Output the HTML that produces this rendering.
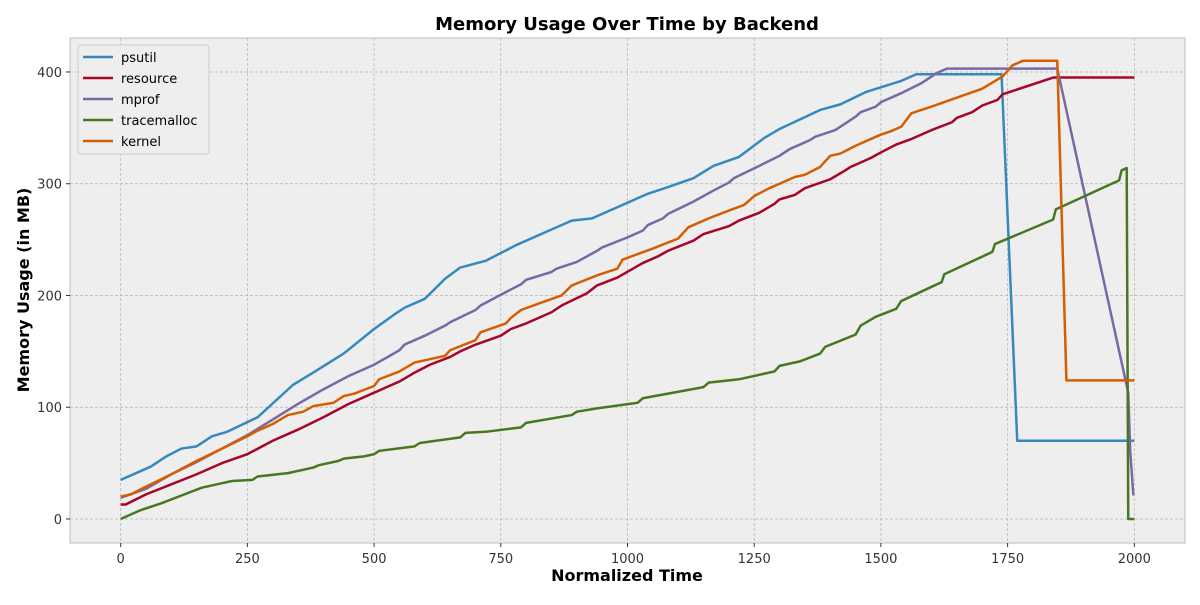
<!DOCTYPE html>
<html><head><meta charset="utf-8"><style>
body{margin:0;background:#fff;font-family:"Liberation Sans","DejaVu Sans",sans-serif}
svg text{font-family:"DejaVu Sans","Liberation Sans",sans-serif}
</style></head><body>
<svg id="c" width="1200" height="600"></svg>
<script>
const xTicks=[0,250,500,750,1000,1250,1500,1750,2000];
const yTicks=[0,100,200,300,400];
const seriesNames=["psutil","resource","mprof","tracemalloc","kernel"];
const seriesColors=["#348ABD","#A60628","#7A68A6","#467821","#D55E00"];
const psutil=[[0,35],[60,47],[90,56],[120,63],[150,65],[180,74],[210,78],[270,91],[340,120],[380,131],[440,148],[500,170],[540,183],[560,189],[600,197],[640,215],[670,225],[720,231],[780,245],[840,257],[890,267],[930,269],[1000,283],[1040,291],[1080,297],[1130,305],[1170,316],[1220,324],[1270,341],[1300,349],[1380,366],[1420,371],[1470,382],[1540,392],[1570,398],[1738,398],[1769,70],[2000,70]];
const resource=[[0,13],[10,13],[50,22],[100,31],[150,40],[200,50],[250,58],[300,70],[350,80],[400,91],[450,103],[500,113],[550,123],[580,131],[610,138],[650,145],[670,150],[700,156],[750,164],[770,170],[800,175],[850,185],[870,191],[920,202],[940,209],[980,216],[1030,229],[1060,235],[1080,240],[1130,249],[1150,255],[1200,262],[1220,267],[1260,274],[1290,282],[1300,286],[1330,290],[1350,296],[1400,304],[1430,312],[1440,315],[1480,323],[1500,328],[1530,335],[1560,340],[1600,348],[1640,355],[1650,359],[1680,364],[1700,370],[1730,375],[1740,380],[1840,395],[2000,395]];
const mprof=[[0,19],[50,27],[100,40],[150,51],[200,63],[250,75],[300,89],[350,103],[400,116],[450,128],[500,138],[550,151],[560,156],[600,164],[640,173],[650,176],[700,187],[710,191],[760,203],[790,210],[800,214],[850,221],[860,224],[900,230],[940,240],[950,243],[1000,252],[1030,258],[1040,263],[1070,269],[1080,273],[1130,284],[1170,294],[1200,301],[1210,305],[1260,316],[1300,325],[1320,331],[1360,339],[1370,342],[1410,348],[1450,360],[1460,364],[1490,369],[1500,373],[1540,381],[1580,390],[1610,399],[1630,403],[1848,403],[1988,113],[1992,60],[1998,22],[2000,22]];
const tracemalloc=[[0,0],[40,8],[80,14],[120,21],[160,28],[200,32],[220,34],[260,35],[270,38],[330,41],[380,46],[390,48],[430,52],[440,54],[480,56],[500,58],[510,61],[580,65],[590,68],[670,73],[680,77],[720,78],[790,82],[800,86],[890,93],[900,96],[940,99],[1020,104],[1030,108],[1150,118],[1160,122],[1220,125],[1290,132],[1300,137],[1340,141],[1380,148],[1390,154],[1450,165],[1460,173],[1490,181],[1530,188],[1540,195],[1620,212],[1625,219],[1720,239],[1725,246],[1840,268],[1845,277],[1970,303],[1975,312],[1985,314],[1988,0],[2000,0]];
const kernel=[[0,20],[20,22],[50,29],[100,40],[150,52],[200,63],[250,74],[270,79],[300,85],[330,93],[360,96],[380,101],[420,104],[440,110],[460,112],[500,119],[510,125],[550,132],[580,140],[600,142],[640,146],[650,151],[700,160],[710,167],[760,175],[770,180],[790,187],[820,192],[870,200],[890,209],[940,218],[980,224],[990,232],[1050,242],[1100,251],[1120,261],[1160,269],[1200,276],[1230,281],[1250,289],[1280,296],[1300,300],[1330,306],[1350,308],[1380,315],[1400,325],[1420,327],[1450,334],[1500,344],[1520,347],[1540,351],[1560,363],[1600,369],[1700,385],[1740,396],[1760,406],[1780,410],[1848,410],[1866,124],[2000,124]];
const allSeries=[psutil,resource,mprof,tracemalloc,kernel];

const NS="http://www.w3.org/2000/svg";
const svg=document.getElementById('c');
const L=70,R=1185,T=38,B=543;
const X0=-100,X1=2100,Y0=-21.5,Y1=430.4;
const sx=v=>L+(v-X0)/(X1-X0)*(R-L);
const sy=v=>B-(v-Y0)/(Y1-Y0)*(B-T);
function mk(tag,attrs,parent){const e=document.createElementNS(NS,tag);for(const k in attrs)e.setAttribute(k,attrs[k]);(parent||svg).appendChild(e);return e;}

const bg=mk('rect',{x:L,y:T,width:R-L,height:B-T,fill:'#eeeeee',stroke:'#bcbcbc','stroke-width':1});



xTicks.forEach(t=>{
  const x=sx(t);
  const g=mk('line',{x1:x,x2:x,y1:T,y2:B,stroke:'#b2b2b2','stroke-dasharray':'3,2','stroke-width':0.7});
  
  
  mk('line',{x1:x,x2:x,y1:B,y2:B+4,stroke:'#333','stroke-width':1});
  const tx=mk('text',{x:x,y:B+20,'text-anchor':'middle','font-size':13,fill:'#333'});
  tx.textContent=t;
  
  
});
yTicks.forEach(t=>{
  const y=sy(t);
  const g=mk('line',{x1:L,x2:R,y1:y,y2:y,stroke:'#b2b2b2','stroke-dasharray':'3,2','stroke-width':0.7});
  
  
  mk('line',{x1:L-4,x2:L,y1:y,y2:y,stroke:'#333','stroke-width':1});
  const tx=mk('text',{x:L-8,y:y+5,'text-anchor':'end','font-size':13,fill:'#333'});
  tx.textContent=t;
  
  
});

allSeries.forEach((s,i)=>{
  const p=mk('polyline',{points:s.map(d=>sx(d[0])+','+sy(d[1])).join(' '),fill:'none',stroke:seriesColors[i],'stroke-width':2.5,'stroke-linejoin':'round'});
  
  
});

const title=mk('text',{x:627,y:30,'text-anchor':'middle','font-size':18,'font-weight':'bold',fill:'#000'});
title.textContent='Memory Usage Over Time by Backend';


const xl=mk('text',{x:627,y:581,'text-anchor':'middle','font-size':16,'font-weight':'bold',fill:'#000'});
xl.textContent='Normalized Time';


const yl=mk('text',{x:0,y:0,'text-anchor':'middle','font-size':16,'font-weight':'bold',fill:'#000',transform:'translate(29,290) rotate(-90)'});
yl.textContent='Memory Usage (in MB)';



const lg=mk('g',{});


mk('rect',{x:78,y:45,width:131,height:109,rx:3,fill:'#eeeeee',stroke:'#cccccc','stroke-width':1},lg);
seriesNames.forEach((n,i)=>{
  const y=57+i*21;
  const e=mk('g',{},lg);
  
  
  mk('line',{x1:83,x2:113,y1:y,y2:y,stroke:seriesColors[i],'stroke-width':2.5},e);
  const t=mk('text',{x:121,y:y+5,'font-size':13,fill:'#000'},e);
  t.textContent=n;
});
</script>
</body></html>
